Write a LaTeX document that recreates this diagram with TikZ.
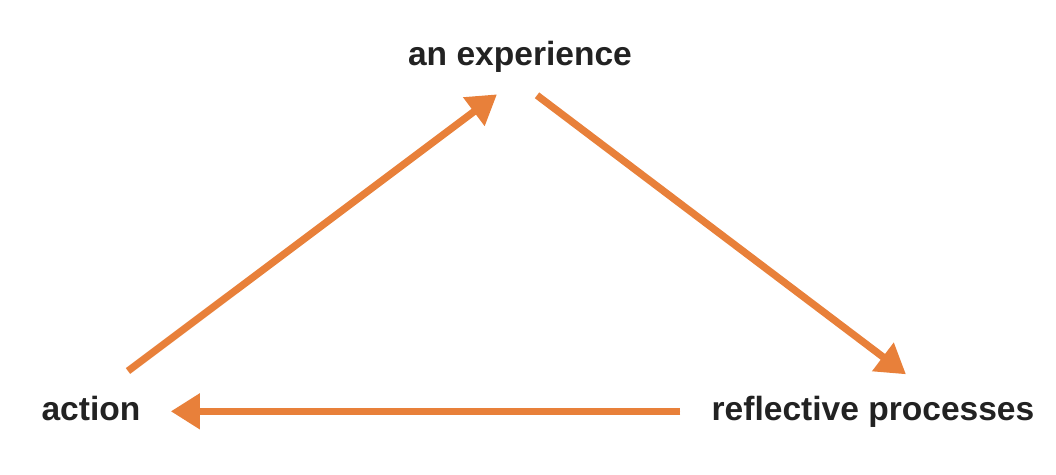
\documentclass[tikz,border=0pt]{standalone}
\usepackage{fontspec}
\setmainfont{Liberation Sans}
\usepackage{tikz}
\usetikzlibrary{positioning,arrows.meta}
\definecolor{cycleorange}{HTML}{E8803A}
\definecolor{textgray}{HTML}{222222}
\tikzstyle{stage}     = [inner sep=0pt, text=textgray, font=\fontsize{19.1pt}{22pt}\selectfont\bfseries]
\tikzstyle{arrow}     = [line width=0.145cm, draw=cycleorange, -{Triangle[length=0.58cm,width=0.68cm]}, fill=cycleorange]
\begin{document}
\begin{tikzpicture}[x=0.02cm,y=-0.02cm]
		\useasboundingbox (0,0) rectangle (1056,474);

		\node[stage, anchor=base] (exp) at (520,65) {an experience};
		\node[stage, anchor=base] (act) at (91,420) {action};
		\node[stage, anchor=base] (refl) at (873,420) {reflective processes};

		\draw[arrow] ([shift={(37,-37)}]act.center) -- ([shift={(-23,38)}]exp.center);
		\draw[arrow] ([shift={(17,39)}]exp.center) -- ([shift={(33,-37)}]refl.center);
		\draw[arrow, shorten <=0.62cm, shorten >=0.6cm] (refl.west) -- (act.east |- refl.west);
	\end{tikzpicture}
\end{document}
